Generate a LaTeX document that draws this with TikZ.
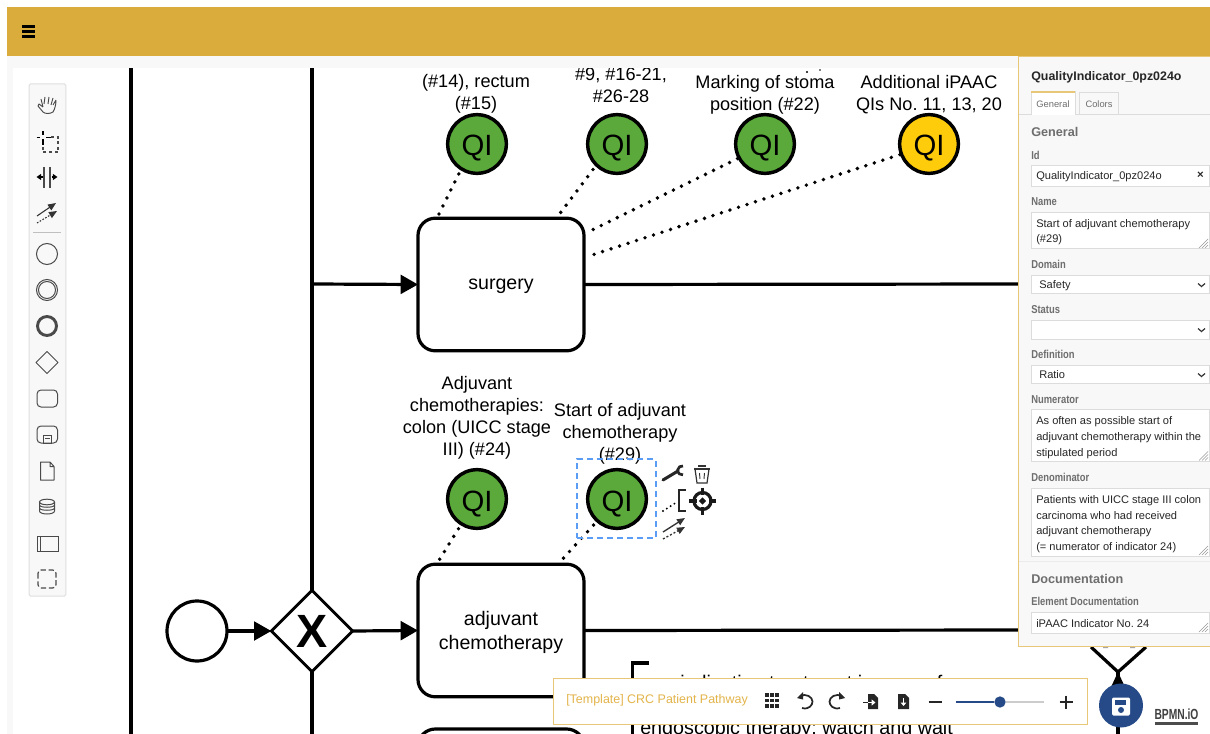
\documentclass[tikz,border=0pt]{standalone}
\usepackage{fontspec}
\setmainfont{Liberation Sans}
\newfontfamily\narrowbold[FakeStretch=0.82]{Liberation Sans Bold}
\newfontfamily\logobold[FakeStretch=0.7]{Liberation Sans Bold}
\usetikzlibrary{arrows.meta,shapes.geometric}
\AtBeginDocument{\frenchspacing}
\definecolor{gold}{HTML}{D9AC3C}
\definecolor{goldline}{HTML}{E8C878}
\definecolor{goldtext}{HTML}{E3B44A}
\definecolor{qigreen}{HTML}{5AA93A}
\definecolor{qiyellow}{HTML}{FFCC0B}
\definecolor{panelbg}{HTML}{F8F8F8}
\definecolor{fieldline}{HTML}{DCDCDC}
\definecolor{labelgrey}{HTML}{6E6E6E}
\definecolor{icongrey}{HTML}{4A4A4A}
\definecolor{selblue}{HTML}{5B9DF5}
\definecolor{navy}{HTML}{264A87}
\newcommand{\fs}[2]{\fontsize{#1}{#2}\selectfont}
\tikzset{
  flow/.style={line width=2.4pt,black},
  flowtip/.style={flow,-{Triangle[length=13pt,width=14pt]}},
  qi/.style={circle,draw=black,line width=2.6pt,minimum size=44pt,inner sep=0pt,font=\fs{22}{24},text height=18pt,text depth=0pt},
  qigo/.style={qi,fill=qigreen},
  qiye/.style={qi,fill=qiyellow},
  task/.style={draw=black,line width=2.4pt,rounded corners=13pt,minimum width=124.5pt,minimum height=99.5pt,inner sep=0pt,outer sep=0pt},
  tasktext/.style={align=center,font=\fs{14.7}{18},inner sep=0pt,yshift=-1.5pt},
  qilink/.style={line width=2.9pt,line cap=round,dash pattern=on 0pt off 6.7pt},
  qilabel/.style={align=center,font=\fs{13.6}{16.6},inner sep=0pt},
  field/.style={draw=fieldline,line width=0.75pt,fill=white},
  plabel/.style={anchor=west,inner sep=0pt,text=labelgrey,font=\narrowbold\fs{8.6}{10},text height=6pt,text depth=2pt,yshift=-1.1pt},
  ptext/.style={anchor=west,inner sep=0pt,text=black!85,font=\fs{8.3}{10},text height=6pt,text depth=2pt,yshift=-1pt},
  phead/.style={anchor=west,inner sep=0pt,text=labelgrey,font=\bfseries\fs{9.5}{11},text height=7pt,text depth=2pt,yshift=-1.3pt},
  tool/.style={icongrey,line width=0.75pt},
  barico/.style={black!85,line width=1.3pt},
}
\begin{document}
\begin{tikzpicture}[x=0.75pt,y=-0.75pt]
\useasboundingbox (0,0) rectangle (1210,734);
\clip (0,0) rectangle (1210,734);
\fill[white] (0,0) rectangle (1210,734);
% pools
\coordinate (laneA) at (131,68);
\coordinate (laneB) at (131,734);
\coordinate (laneC) at (312,68);
\coordinate (laneD) at (312,734);
\coordinate (branch) at (312,284);
\draw[flow] (laneA) -- (laneB);
% tasks
\node[task,label={[tasktext]center:surgery}] (surgery) at (501,284.5) {};
\node[task,label={[tasktext]center:adjuvant\\chemotherapy}] (adjuvant) at (501,630.5) {};
\node[task,anchor=north] (third) at (501,729) {};
% start and gateway
\node[circle,draw=black,line width=2.4pt,minimum size=45pt,inner sep=0pt,outer sep=0pt] (start) at (197,631) {};
\node[diamond,aspect=1,draw=black,line width=2.2pt,minimum width=61pt,minimum height=61pt,inner sep=0pt,outer sep=0pt] (gw) at (312,631) {};
\node[font=\bfseries\fs{35}{36},inner sep=0pt] (gwx) at (312,631) {X};
\draw[flow] (laneC) -- (gw.north);
\draw[flow] (gw.south) -- (laneD);
\draw[flowtip] (branch) -- (surgery.west);
\draw[flowtip] (start) -- (gw.west);
\draw[flowtip] (gw.east) -- (adjuvant.west);
\coordinate (outA) at (1030,284);
\coordinate (outB) at (1030,630);
\draw[flow] (surgery.east) -- (outA);
\draw[flow] (adjuvant.east) -- (outB);
% QI nodes
\node[qigo] (q1) at (477,144) {QI};
\node[qigo] (q2) at (617,144) {QI};
\node[qigo] (q3) at (765,144) {QI};
\node[qiye] (q4) at (929,144) {QI};
\node[qigo] (q5) at (477,499) {QI};
\node[qigo] (q6) at (617,499) {QI};
\coordinate (s1) at (438,216);
\coordinate (s2) at (558,216);
\coordinate (s3) at (588,232);
\coordinate (s4) at (586,257);
\coordinate (s5) at (438,562);
\coordinate (s6) at (560,562);
\draw[qilink,shorten <=3pt] (q1.238) -- (s1);
\draw[qilink,shorten <=3pt] (q2.226) -- (s2);
\draw[qilink] (q3.208) -- (s3);
\draw[qilink] (q4.200) -- (s4);
\draw[qilink,shorten <=3pt] (q5.238) -- (s5);
\draw[qilink,shorten <=3pt] (q6.228) -- (s6);
% QI labels
\node[qilabel] (l1) at (476,94) {(\#14), rectum\\(\#15)};
\node[qilabel] (l2) at (621,85.5) {\#9, \#16-21,\\\#26-28};
\node[qilabel] (l3) at (765,95) {Marking of stoma\\position (\#22)};
\node[qilabel] (l4) at (929,95) {Additional iPAAC\\QIs No. 11, 13, 20};
\node[qilabel] (l5) at (477,418) {Adjuvant\\chemotherapies:\\colon (UICC stage\\III) (\#24)};
\node[qilabel] (l6) at (620,434) {Start of adjuvant\\chemotherapy\\(\#29)};
% clipped line end above label
\fill (807,72) circle (1.1);
\fill (820,70) circle (0.9);
% selection
\node[draw=selblue,line width=1.2pt,dash pattern=on 4.5pt off 3pt,minimum size=59pt,inner sep=0pt] (sel) at (616.5,498.5) {};
% context pad
\begin{scope}[shift={(675,473)}]
  \draw[line width=2.3pt,line cap=round,black!85] (-12,7) -- (3,-2);
  \draw[line width=2pt,black!85] (8,-7) arc[start angle=-80,end angle=-280,radius=4.5];
\end{scope}
\begin{scope}[shift={(702,474)}]
  \draw[black!80,line width=0.9pt,fill=white] (-7,-5) -- (-5,9) -- (5,9) -- (7,-5);
  \draw[black!80,line width=1.4pt] (-8,-5) -- (8,-5);
  \draw[black!80,line width=1.2pt] (-4,-8) -- (4,-8);
  \draw[black!80,line width=0.7pt] (-2.5,-1) -- (-2,5) (2.5,-1) -- (2,5);
\end{scope}
\begin{scope}[shift={(702.5,501)}]
  \draw[black!90,line width=2.4pt] (0,0) circle (8.5);
  \fill[black!90] (0,-3.6) -- (3.6,0) -- (0,3.6) -- (-3.6,0) -- cycle;
  \draw[black!90,line width=2.4pt] (0,-13.5) -- (0,-6) (0,13.5) -- (0,6) (-13.5,0) -- (-6,0) (13.5,0) -- (6,0);
\end{scope}
\draw[black!85,line width=1pt] (686,490) -- (679,490) -- (679,511) -- (686,511);
\draw[line cap=round,line width=1.6pt,dash pattern=on 0pt off 3.4pt] (663,511) -- (677,502);
\draw[black!80,line width=1pt,-{Triangle[length=6pt,width=5pt]}] (663,532) -- (685,518);
\draw[black!80,line width=1pt,dash pattern=on 1.5pt off 1.5pt,-{Triangle[length=6pt,width=5pt]}] (663,539) -- (685,527);
% annotation
\draw[flow] (649,663) -- (632.5,663) -- (632.5,734);
\node[anchor=base west,inner sep=0pt,font=\fs{14.8}{18}] (ann1) at (680,689) {indication treatment in case of};
\node[anchor=base west,inner sep=0pt,font=\fs{14.8}{18}] (ann2) at (640,734) {endoscopic therapy: watch and wait};
% right hand gateway
\coordinate (gwl) at (1091,647);
\coordinate (gwr) at (1146,647);
\coordinate (gwb) at (1118,672);
\coordinate (gwd) at (1118,734);
\draw[flow] (gwl) -- (gwb) -- (gwr);
\draw[flow] (gwb) -- (gwd);
\fill (1118,672) -- (1111.5,686) -- (1124.5,686) -- cycle;
% chrome
\fill[panelbg] (0,56) rectangle (1210,68);
\fill[panelbg] (7,56) rectangle (13,734);
\fill[white] (0,0) rectangle (1210,7);
\fill[white] (0,7) rectangle (7,734);
\fill[gold] (7,7) rectangle (1210,56);
\draw[black,line width=1.9pt] (22,26.7) -- (35,26.7) (22,31.7) -- (35,31.7) (22,36.7) -- (35,36.7);
% palette
\node[draw=black!13,fill=panelbg,line width=0.75pt,rounded corners=1pt,minimum width=27.5pt,minimum height=384pt,inner sep=0pt] (palette) at (47.5,340) {};
\begin{scope}[tool]
  % hand
  \begin{scope}[shift={(47,105)}]
    \draw[line width=0.7pt,line join=round] (-9,1) -- (-4,7) .. controls (-2,9) and (3,9) .. (6,7) .. controls (8,4) and (9,-1) .. (9,-5)
      (-9,1) -- (-8,-1) -- (-4,2) (-4,2) -- (-6,-6) (-3,-1) -- (-2,-8) (1,-1) -- (2,-8) (4,0) -- (6,-7) (9,-5) -- (6,0);
  \end{scope}
  % lasso
  \begin{scope}[shift={(47,142)}]
    \draw[line width=1.4pt,black] (-4,-11) -- (-4,-7) (-4,-3) -- (-4,3) (-10.5,-4.5) -- (-7,-4.5) (-1,-4.5) -- (3.5,-4.5);
    \draw[line width=0.8pt,dash pattern=on 2.2pt off 2pt] (4,-5) -- (11,-5) -- (11,10) -- (-4,10) -- (-4,5);
  \end{scope}
  % space
  \begin{scope}[shift={(47,177)}]
    \draw[line width=0.9pt] (-3,-10) -- (-3,11) (3,-10) -- (3,11);
    \draw[line width=0.9pt,black,-{Triangle[length=3.5pt,width=4.5pt]}] (-4.5,0) -- (-10.5,0);
    \draw[line width=0.9pt,black,-{Triangle[length=3.5pt,width=4.5pt]}] (4.5,0) -- (10.5,0);
  \end{scope}
  % connect
  \begin{scope}[shift={(47,212)}]
    \draw[line width=0.8pt,black!80,-{Triangle[length=6pt,width=5pt]}] (-10,4) -- (9,-9);
    \draw[line width=0.8pt,black!80,dash pattern=on 1.2pt off 1.2pt,-{Triangle[length=6pt,width=5pt]}] (-10,11) -- (10,-1);
  \end{scope}
  \draw[black!25] (33,233) -- (61,233);
  \draw (47,254) circle (10.5);
  \draw (47,290) circle (10.5); \draw (47,290) circle (8.5);
  \draw[line width=2.2pt] (47,326) circle (9.5);
  \draw[line join=round] (47,351.5) -- (58,362.5) -- (47,373.5) -- (36,362.5) -- cycle;
  \draw[rounded corners=3pt] (37,390) rectangle (57.5,407);
  \draw[rounded corners=3pt] (37,426) rectangle (57.5,443);
  \draw (43.5,435) rectangle (51,443) (45,438) -- (49.5,438);
  \draw[line join=round] (40.5,462) -- (50,462) -- (54,466.5) -- (54,480) -- (40.5,480) -- cycle (50,462) -- (50,466.5) -- (54,466.5);
  \draw (39.5,502) -- (39.5,511) .. controls (39.5,515) and (54.5,515) .. (54.5,511) -- (54.5,502);
  \draw (47,502) ellipse[x radius=7.5,y radius=2.8];
  \draw (39.5,505) .. controls (39.5,508) and (54.5,508) .. (54.5,505);
  \draw (39.5,508) .. controls (39.5,511) and (54.5,511) .. (54.5,508);
  \draw (37,536) rectangle (58,551) (40.5,536) -- (40.5,551);
  \draw[line width=0.9pt,rounded corners=2.5pt,dash pattern=on 4pt off 2pt] (38,570) rectangle (56,588);
\end{scope}
% properties panel
\fill[black!35] (1103,646) rectangle (1108,648) (1130,646) rectangle (1135,648);
\node[draw=goldline,fill=panelbg,line width=0.8pt,minimum width=160pt,minimum height=442.5pt,inner sep=0pt,anchor=north west] (panel) at (1018,56) {};
\node[anchor=west,inner sep=0pt,font=\bfseries\fs{9.3}{10},text=black!85,text height=6.5pt,text depth=2pt,yshift=-1.5pt] (ptitle) at (1031,76) {QualityIndicator\_0pz024o};
\draw[fieldline,line width=0.75pt] (1019,115) -- (1210,115);
\draw[fieldline,line width=0.75pt,fill=white] (1031,115) -- (1031,92) -- (1075,92) -- (1075,115);
\draw[goldline,line width=1.1pt] (1031,92) -- (1075,92);
\draw[fieldline,line width=0.75pt] (1079,115) -- (1079,93) -- (1118,93) -- (1118,115);
\node[inner sep=0pt,font=\fs{7}{8},text=labelgrey] (tab1) at (1053,104) {General};
\node[inner sep=0pt,font=\fs{7}{8},text=labelgrey] (tab2) at (1099,104) {Colors};
\node[phead] (hgen) at (1031,131.5) {General};
\node[plabel] (lid) at (1031,155) {Id};
\fill[field,draw=fieldline] (1031,165.5) rectangle (1209.5,186.5);
\node[ptext] (tid) at (1036,176) {QualityIndicator\_0pz024o};
\node[inner sep=0pt,font=\bfseries\fs{8.5}{9},text=black!85] (xid) at (1200.5,175.5) {×};
\node[plabel] (lname) at (1031,201.5) {Name};
\fill[field,draw=fieldline] (1031,212.5) rectangle (1209.5,249);
\node[ptext] (tn1) at (1036,223.5) {Start of adjuvant chemotherapy};
\node[ptext] (tn2) at (1036,239) {(\#29)};
\node[plabel] (ldom) at (1031,264.5) {Domain};
\fill[field,draw=fieldline] (1031,275.5) rectangle (1209.5,294);
\node[ptext] (tdom) at (1039,285) {Safety};
\node[plabel] (lsta) at (1031,309.5) {Status};
\fill[field,draw=fieldline] (1031,320.5) rectangle (1209.5,339);
\node[plabel] (ldef) at (1031,354) {Definition};
\fill[field,draw=fieldline] (1031,365) rectangle (1209.5,383.5);
\node[ptext] (tdef) at (1039,374.5) {Ratio};
\node[plabel] (lnum) at (1031,399.5) {Numerator};
\fill[field,draw=fieldline] (1031,409.5) rectangle (1209.5,461.5);
\node[ptext] (tnu1) at (1036,420.5) {As often as possible start of};
\node[ptext] (tnu2) at (1036,436.5) {adjuvant chemotherapy within the};
\node[ptext] (tnu3) at (1036,452) {stipulated period};
\node[plabel] (lden) at (1031,477.5) {Denominator};
\fill[field,draw=fieldline] (1031,488) rectangle (1209.5,556);
\node[ptext] (tde1) at (1036,499) {Patients with UICC stage III colon};
\node[ptext] (tde2) at (1036,515) {carcinoma who had received};
\node[ptext] (tde3) at (1036,530.5) {adjuvant chemotherapy};
\node[ptext] (tde4) at (1036,546.5) {(= numerator of indicator 24)};
\draw[black!8,line width=0.75pt] (1019,561) -- (1210,561);
\node[phead] (hdoc) at (1031,578.5) {Documentation};
\node[plabel] (ledoc) at (1031,601.5) {Element Documentation};
\fill[field,draw=fieldline] (1031,612) rectangle (1209.5,633);
\node[ptext] (tdoc) at (1036,623) {iPAAC Indicator No. 24};
% select chevrons and resize grips
\foreach \cy in {285,330,375}{\draw[black!80,line width=0.9pt] (1198,\cy-1.5) -- (1201.5,\cy+1.5) -- (1205,\cy-1.5);}
\foreach \cy in {249,461.5,556,633}{\draw[black!40,line width=0.5pt] (1199,\cy-1) -- (1208,\cy-10) (1202,\cy-1) -- (1208,\cy-7) (1205,\cy-1) -- (1208,\cy-4);}
% toolbar
\node[draw=goldline,fill=white,line width=0.8pt,minimum width=400.5pt,minimum height=34.5pt,inner sep=0pt,anchor=north west] (bar) at (553,678) {};
\node[anchor=west,inner sep=0pt,font=\fs{9.35}{10},text=goldtext] (barname) at (566,700) {[Template] CRC Patient Pathway};
\foreach \ix in {-5,0,5}\foreach \iy in {-5,0,5}{\fill[black!85] (772+\ix*1.05-1.9,700.5+\iy*1.05-1.9) rectangle (772+\ix*1.05+1.9,700.5+\iy*1.05+1.9);}
\draw[barico] (802,708) .. controls (809,710) and (812.5,705) .. (812.5,701.5) .. controls (812.5,697) and (806,693) .. (800,696);
\fill[black!85] (797,698) -- (803,692) -- (803,699.5) -- cycle;
\draw[barico] (840,708) .. controls (833,710) and (829.5,705) .. (829.5,701.5) .. controls (829.5,697) and (836,693) .. (842,696);
\fill[black!85] (845,698) -- (839,692) -- (839,699.5) -- cycle;
\fill[black!85] (868,694) -- (874,694) -- (878,698) -- (878,709) -- (868,709) -- cycle;
\draw[black!85,line width=1.1pt] (863,702.5) -- (868,702.5);
\draw[white,line width=1.1pt,-{Triangle[length=3pt,width=4.5pt]}] (868,702.5) -- (875.5,702.5);
\fill[black!85] (898,694) -- (905,694) -- (909,698) -- (909,709) -- (898,709) -- cycle;
\draw[white,line width=0.9pt,-{Triangle[length=2.5pt,width=4pt]}] (903.5,698) -- (903.5,706);
\draw[black!85,line width=1.7pt] (928.5,702) -- (941.5,702);
\node[circle,fill=navy,minimum size=8.5pt,inner sep=0pt] (knob) at (1000,702) {};
\coordinate (sldl) at (956,702);
\coordinate (sldr) at (1044,702);
\draw[black!20,line width=0.8pt] (knob) -- (sldr);
\draw[navy,line width=0.8pt] (sldl) -- (knob);
\draw[black!85,line width=1.7pt] (1059.5,702) -- (1072.5,702) (1066,695.5) -- (1066,708.5);
% save button
\node[circle,fill=navy,minimum size=33pt,inner sep=0pt] (save) at (1121,705.5) {};
\begin{scope}[shift={(1121,706.5)}]
  \fill[white,rounded corners=1pt] (-9,-9) rectangle (9,9);
  \fill[navy] (-6,-7) rectangle (5,-2);
  \fill[navy] (0,3.5) circle (3);
\end{scope}
\node[inner sep=0pt,font=\logobold\fs{11}{12},text=black!75] (bpmn) at (1176.5,714.5) {BPMN.iO};
\coordinate (ulA) at (1155,723.5);
\coordinate (ulB) at (1198,723.5);
\draw[black!70,line width=1.7pt] (ulA) -- (ulB);
\end{tikzpicture}
\end{document}
